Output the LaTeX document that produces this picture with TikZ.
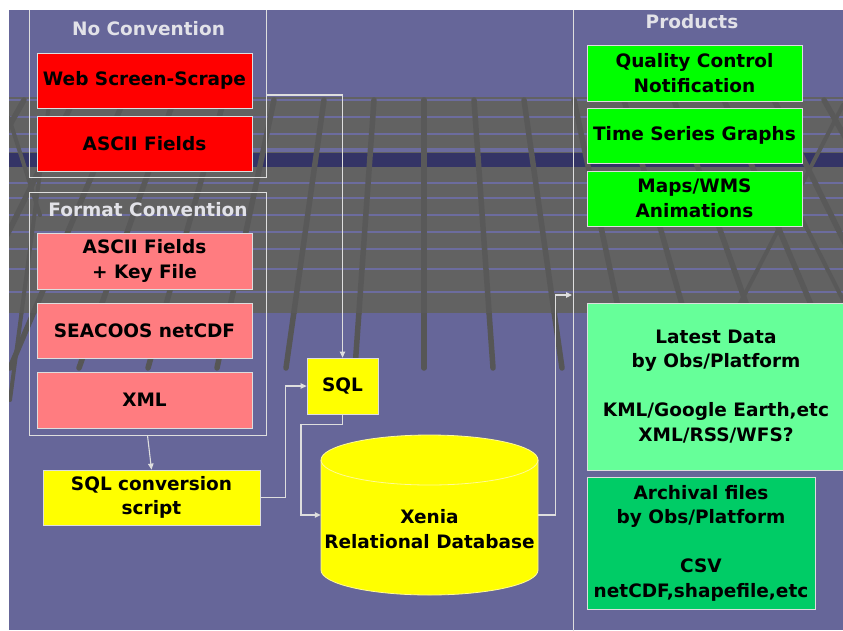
\documentclass[tikz,border=0pt]{standalone}
\usepackage{fontspec}
\setmainfont{DejaVu Sans}
\usetikzlibrary{arrows.meta}
\definecolor{bgpurple}{RGB}{102,102,153}
\definecolor{bandgray}{RGB}{98,98,98}
\definecolor{postgray}{RGB}{86,86,86}
\definecolor{postband}{RGB}{89,89,89}
\definecolor{stripe}{RGB}{108,108,158}
\definecolor{darkband}{RGB}{52,52,102}
\definecolor{edgec}{RGB}{222,222,222}
\definecolor{titlec}{RGB}{226,226,232}
\definecolor{redbox}{RGB}{255,0,0}
\definecolor{pinkbox}{RGB}{255,124,128}
\definecolor{yelbox}{RGB}{255,255,0}
\definecolor{grnbox}{RGB}{0,255,0}
\definecolor{ltgrn}{RGB}{102,255,153}
\definecolor{dkgrn}{RGB}{0,204,102}
\newcommand{\bxfont}{\fontsize{18.5}{24.5}\selectfont\bfseries}
\begin{document}
\begin{tikzpicture}[x=1pt,y=-1pt,
  box/.style={draw=edgec, line width=0.8pt, minimum width=215pt, minimum height=55pt, align=center, font=\bxfont, text=black, inner sep=0pt},
  group/.style={draw=edgec, line width=0.9pt, inner sep=0pt},
  title/.style={font=\bxfont, text=titlec, inner sep=0pt},
  conn/.style={draw=edgec, line width=1.1pt},
  arr/.style={conn, -{Triangle[length=6pt,width=5.5pt]}},
  post/.style={line width=5.5pt, line cap=round},
  stripeline/.style={draw=stripe, line width=2pt}]
\useasboundingbox (0,0) rectangle (843,630);
\fill[white] (0,0) rectangle (843,630);
\begin{scope}
\clip (9,10) rectangle (843,630);
\fill[bgpurple] (9,10) rectangle (843,630);
% floor band
\fill[bandgray] (9,97) rectangle (843,313);
\foreach \yy in {100,117,134,149,183,198,215,232,249,269,292}
  \draw[stripeline] (9,\yy) -- (843,\yy);
\fill[darkband] (9,153) rectangle (843,167);
\draw[stripe, line width=1.5pt] (9,151) -- (843,151);
\begin{scope}
\clip (9,97) rectangle (843,313);
\foreach \i in {-8,...,8}
  \draw[post, draw=postband] (424+\i*50,100) -- (424+\i*69,368);
\draw[post, draw=postband, line width=4pt] (10,400) -- (50,97);
\draw[post, draw=postband, line width=4pt] (9,118) -- (40,215);
\draw[post, draw=postband, line width=4pt] (843,105) -- (735,313);
\draw[post, draw=postband, line width=4pt] (795,205) -- (843,300);
\end{scope}
\begin{scope}
\clip (9,313) rectangle (843,630);
\foreach \i in {-8,...,8}
  \draw[post, draw=postgray] (424+\i*50,100) -- (424+\i*69,368);
\draw[post, draw=postgray, line width=4pt] (10,400) -- (50,97);
\end{scope}
% groups
\node[group, minimum width=237pt, minimum height=177pt] (noconv) at (147.5,88.5) {};
\node[group, minimum width=237pt, minimum height=243pt] (fmt) at (147.5,313.5) {};
\node[group, minimum width=327pt, minimum height=700pt] (prod) at (736.5,350) {};
\node[title] (t1) at (148.5,29) {No Convention};
\node[title] (t2) at (148,210) {Format Convention};
\node[title] (t3) at (692,22) {Products};
% source boxes
\node[box, fill=redbox] (web) at (144.5,80.5) {Web Screen-Scrape};
\node[box, fill=redbox] (ascii) at (144.5,143.5) {ASCII Fields};
\node[box, fill=pinkbox, minimum height=56pt] (asciikey) at (144.5,261) {ASCII Fields\\+ Key File};
\node[box, fill=pinkbox] (seacoos) at (144.5,330.5) {SEACOOS netCDF};
\node[box, fill=pinkbox, minimum height=56pt] (xml) at (144.5,400) {XML};
\node[box, fill=yelbox, minimum width=217pt] (sqlconv) at (151.5,497.5) {SQL conversion\\script};
\node[box, fill=yelbox, minimum width=71pt, minimum height=56pt] (sql) at (342.5,386) {SQL};
% products
\node[box, fill=grnbox, minimum height=56pt] (qc) at (694.5,73) {Quality Control\\Notification};
\node[box, fill=grnbox] (ts) at (694.5,135.5) {Time Series Graphs};
\node[box, fill=grnbox] (maps) at (694.5,198.5) {Maps/WMS\\Animations};
\node[box, fill=ltgrn, minimum width=258pt, minimum height=167pt] (latest) at (716,386.5) {Latest Data\\by Obs/Platform\\[24.5pt]KML/Google Earth,etc\\XML/RSS/WFS?};
\node[box, fill=dkgrn, minimum width=228pt, minimum height=132pt] (arch) at (701,543) {Archival files\\by Obs/Platform\\[24.5pt]CSV\\netCDF,shapefile,etc};
% database cylinder
\node[minimum width=217pt, minimum height=160pt, inner sep=0pt] (db) at (429.5,515) {};
\fill[yelbox] (321,460) -- (321,570) arc[start angle=180, end angle=0, x radius=108.5, y radius=25] -- (538,460) arc[start angle=0, end angle=-180, x radius=108.5, y radius=25] -- cycle;
\draw[draw=yellow!40!white, line width=0.8pt] (321,460) -- (321,570) arc[start angle=180, end angle=0, x radius=108.5, y radius=25] -- (538,460) arc[start angle=0, end angle=-180, x radius=108.5, y radius=25] -- cycle;
\draw[draw=yellow!40!white, line width=0.8pt] (321,460) arc[start angle=180, end angle=0, x radius=108.5, y radius=25];
\node[font=\bxfont, align=center, inner sep=0pt] (dbtext) at (429.5,529) {Xenia\\Relational Database};
% connectors
\coordinate (ncout) at (266,95);
\coordinate (prodin) at (572,295);
\draw[arr] (ncout) -| (sql.north);
\draw[arr] (fmt.south) -- (sqlconv.north);
\draw[arr] (sqlconv.east) -- ++(25,0) |- (sql.west);
\draw[arr] (sql.south) -- ++(0,10) -- ++(-41.5,0) |- (db.west);
\draw[arr] (db.east) -- ++(17,0) |- (prodin);
\end{scope}
\end{tikzpicture}
\end{document}
